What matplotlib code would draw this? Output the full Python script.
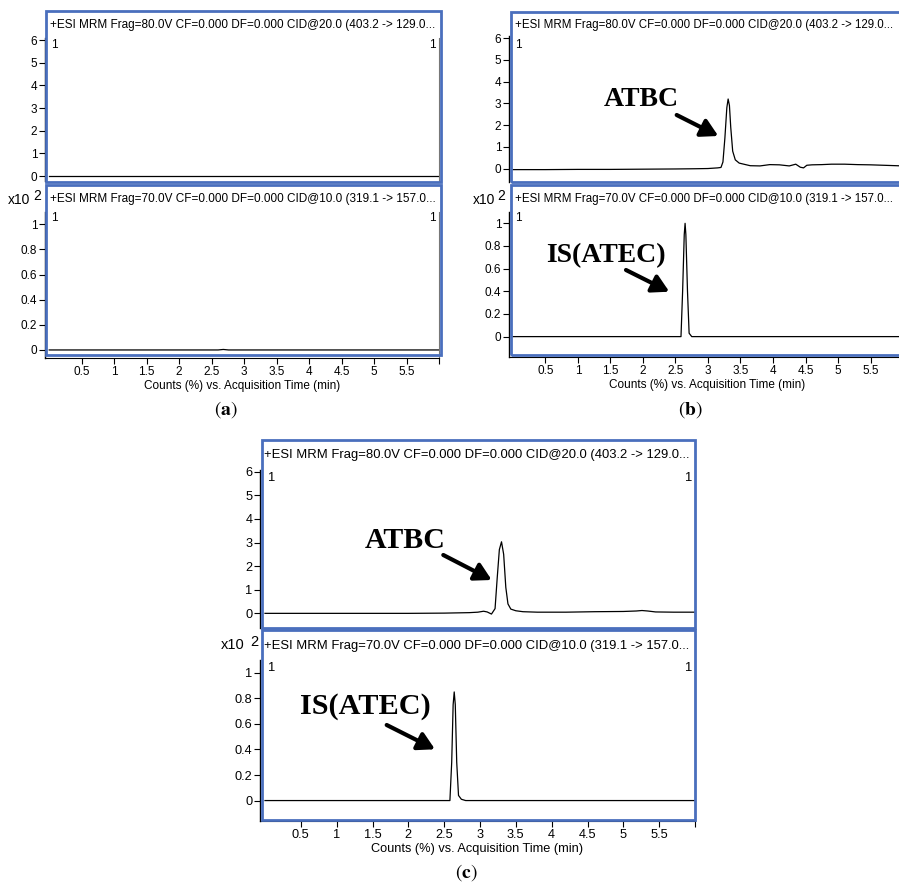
import numpy as np
import matplotlib
matplotlib.use("Agg")
import matplotlib.pyplot as plt
from matplotlib.patches import Rectangle, FancyArrowPatch

plt.rcParams['font.family'] = ['Liberation Sans', 'DejaVu Sans']
plt.rcParams['mathtext.fontset'] = 'stix'

# ---- data (time in min, counts x10^2 / %) ----
a_top_t = [0.0, 6.0]
a_top_y = [0.0, 0.0]
a_bot_t = [0.0, 2.6, 2.68, 2.76, 6.0]
a_bot_y = [0.0, 0.0, 0.004, 0.0, 0.0]

b_top_t = [0.0, 0.5, 1.0, 1.5, 2.0, 2.5, 2.8, 3.0, 3.15, 3.20, 3.23, 3.26, 3.29, 3.31,
           3.33, 3.35, 3.38, 3.42, 3.48, 3.55, 3.65, 3.8, 3.95, 4.1, 4.25, 4.35, 4.42,
           4.47, 4.52, 4.6, 4.75, 4.9, 5.1, 5.3, 5.5, 5.7, 6.0]
b_top_y = [-0.05, -0.05, -0.04, -0.04, -0.03, -0.02, -0.01, 0.0, 0.03, 0.05, 0.3, 1.4,
           2.8, 3.2, 2.9, 1.9, 0.8, 0.4, 0.25, 0.2, 0.13, 0.12, 0.18, 0.17, 0.12, 0.2,
           0.06, 0.03, 0.15, 0.17, 0.18, 0.2, 0.2, 0.18, 0.17, 0.15, 0.12]
b_bot_t = [0.0, 1.0, 2.0, 2.5, 2.585, 2.61, 2.635, 2.648, 2.66, 2.685, 2.71, 2.75, 3.0,
           4.0, 5.0, 6.0]
b_bot_y = [0.0, 0.0, 0.0, 0.0, 0.0, 0.4, 0.9, 1.0, 0.9, 0.4, 0.03, 0.0, 0.0, 0.0, 0.0, 0.0]

c_top_t = [0.0, 1.0, 2.0, 2.5, 2.85, 2.97, 3.05, 3.1, 3.16, 3.21, 3.24, 3.27, 3.30, 3.33,
           3.36, 3.39, 3.43, 3.5, 3.6, 3.8, 4.2, 4.6, 5.0, 5.18, 5.26, 5.34, 5.45, 5.7, 6.0]
c_top_y = [0.0, 0.0, 0.0, 0.01, 0.03, 0.05, 0.09, 0.06, -0.03, 0.2, 1.5, 2.7, 3.03, 2.5,
           1.1, 0.4, 0.18, 0.11, 0.07, 0.05, 0.05, 0.07, 0.08, 0.1, 0.12, 0.1, 0.06,
           0.05, 0.05]
c_bot_t = [0.0, 1.0, 2.0, 2.5, 2.58, 2.605, 2.625, 2.64, 2.655, 2.675, 2.70, 2.74, 2.8,
           4.0, 6.0]
c_bot_y = [0.0, 0.0, 0.0, 0.0, 0.0, 0.3, 0.75, 0.85, 0.75, 0.3, 0.04, 0.01, 0.0, 0.0, 0.0]

header_top = "+ESI MRM Frag=80.0V CF=0.000 DF=0.000 CID@20.0 (403.2 -> 129.0..."
header_bot = "+ESI MRM Frag=70.0V CF=0.000 DF=0.000 CID@10.0 (319.1 -> 157.0..."
x_label = "Counts (%) vs. Acquisition Time (min)"
x_ticks = [0.5, 1, 1.5, 2, 2.5, 3, 3.5, 4, 4.5, 5, 5.5, 6]
x_tick_labels = ['0.5', '1', '1.5', '2', '2.5', '3', '3.5', '4', '4.5', '5', '5.5', '']
top_yticks = [0, 1, 2, 3, 4, 5, 6]
top_ytick_labels = ['0', '1', '2', '3', '4', '5', '6']
bot_yticks = [0, 0.2, 0.4, 0.6, 0.8, 1.0]
bot_ytick_labels = ['0', '0.2', '0.4', '0.6', '0.8', '1']

W, H = 899, 888
BLUE = '#4a6fbd'

fig = plt.figure(figsize=(W / 100, H / 100), dpi=100)


def fx(px):
    return px / W


def fy(py):
    return 1 - py / H


def box(l, t, r, b):
    fig.add_artist(Rectangle((fx(l), fy(b)), (r - l) / W, (b - t) / H,
                             transform=fig.transFigure, fill=False,
                             ec=BLUE, lw=2.0, zorder=5))


def trace_axes(rect, xlim, ylim, t, y, yticks, ylabels, fs, bottom):
    l, tp, r, b = rect
    ax = fig.add_axes([fx(l), fy(b), (r - l) / W, (b - tp) / H])
    ax.set_facecolor('none')
    ax.plot(t, y, color='black', lw=0.9)
    ax.set_xlim(xlim)
    ax.set_ylim(ylim)
    ax.spines['top'].set_visible(False)
    ax.spines['right'].set_color('#777777')
    ax.spines['right'].set_linewidth(0.8)
    ax.spines['left'].set_linewidth(1.0)
    ax.set_yticks(yticks, ylabels)
    ax.tick_params(axis='y', direction='out', length=4, width=0.8, pad=1.5,
                   labelsize=fs)
    if bottom:
        ax.set_xticks(x_ticks, x_tick_labels)
        ax.tick_params(axis='x', direction='out', length=4, width=0.8, pad=1.5,
                       labelsize=fs)
        ax.set_xlabel(x_label, fontsize=fs, labelpad=2)
    else:
        ax.spines['bottom'].set_visible(False)
        ax.set_xticks([])
    return ax


def label(px, py, s, fs, **kw):
    fig.text(fx(px), fy(py), s, fontsize=fs, va='center', **kw)


def arrow(x0, y0, x1, y1):
    fig.add_artist(FancyArrowPatch((fx(x0), fy(y0)), (fx(x1), fy(y1)),
                                   transform=fig.transFigure,
                                   arrowstyle='-|>,head_length=0.5,head_width=0.28',
                                   mutation_scale=20, lw=3, color='black',
                                   shrinkA=0, shrinkB=0, zorder=6))


serif = ['Liberation Serif', 'DejaVu Serif']

# ---------------- (a) ----------------
trace_axes((45, 38, 439, 181), (-0.065, 6.0), (-0.22, 6.09), a_top_t, a_top_y,
           top_yticks, top_ytick_labels, 8.5, False)
trace_axes((45, 212, 439, 358), (-0.065, 6.0), (-0.064, 1.098), a_bot_t, a_bot_y,
           bot_yticks, bot_ytick_labels, 8.5, True)
box(46, 11, 441, 182)
box(46, 185, 441, 355)
label(50, 25, header_top, 8.5)
label(50, 199, header_bot, 8.5)
label(51, 45, '1', 8.5)
label(436, 45, '1', 8.5, ha='right')
label(51, 218, '1', 8.5)
label(436, 218, '1', 8.5, ha='right')
label(8, 200, 'x10', 10)
label(33, 196, '2', 10)
label(226, 410, r'$(\mathbf{a})$', 14, ha='center')

# ---------------- (b) ----------------
trace_axes((509, 36, 905, 182), (-0.06, 6.03), (-0.62, 6.1), b_top_t, b_top_y,
           top_yticks, top_ytick_labels, 8.5, False)
trace_axes((509, 212, 905, 357), (-0.06, 6.03), (-0.18, 1.10), b_bot_t, b_bot_y,
           bot_yticks, bot_ytick_labels, 8.5, True)
box(511, 12, 910, 182)
box(511, 185, 910, 355)
label(515, 25, header_top, 8.3)
label(515, 199, header_bot, 8.3)
label(515, 45, '1', 8.5)
label(515, 218, '1', 8.5)
label(473, 200, 'x10', 10)
label(497, 196, '2', 10)
label(690, 410, r'$(\mathbf{b})$', 14, ha='center')
fig.text(fx(641.7), fy(100), 'ATBC', fontsize=20, fontweight='bold', family=serif,
         ha='center', va='center')
arrow(676.7, 115, 718.3, 136)
fig.text(fx(605.5), fy(256), 'IS(ATEC)', fontsize=20, fontweight='bold', family=serif,
         ha='center', va='center')
arrow(626, 270, 669.3, 291.7)

# ---------------- (c) ----------------
trace_axes((260, 470, 695, 628), (-0.07, 6.0), (-0.62, 6.07), c_top_t, c_top_y,
           top_yticks, top_ytick_labels, 9.2, False)
trace_axes((260, 660, 695, 821), (-0.07, 6.0), (-0.16, 1.10), c_bot_t, c_bot_y,
           bot_yticks, bot_ytick_labels, 9.2, True)
box(262, 440, 695, 628)
box(262, 630, 695, 820)
label(264, 455, header_top, 9.4)
label(264, 646, header_bot, 9.4)
label(267, 478, '1', 9.4)
label(691, 478, '1', 9.4, ha='right')
label(267, 668, '1', 9.4)
label(691, 668, '1', 9.4, ha='right')
label(221, 645, 'x10', 10.5)
label(250, 642, '2', 10.5)
label(466, 873, r'$(\mathbf{c})$', 14, ha='center')
fig.text(fx(405), fy(540), 'ATBC', fontsize=21.5, fontweight='bold', family=serif,
         ha='center', va='center')
arrow(443.3, 555, 491.7, 580)
fig.text(fx(365), fy(706.7), 'IS(ATEC)', fontsize=21.8, fontweight='bold', family=serif,
         ha='center', va='center')
arrow(386.7, 725, 435, 749.3)

fig.savefig('out.png', dpi=100)
